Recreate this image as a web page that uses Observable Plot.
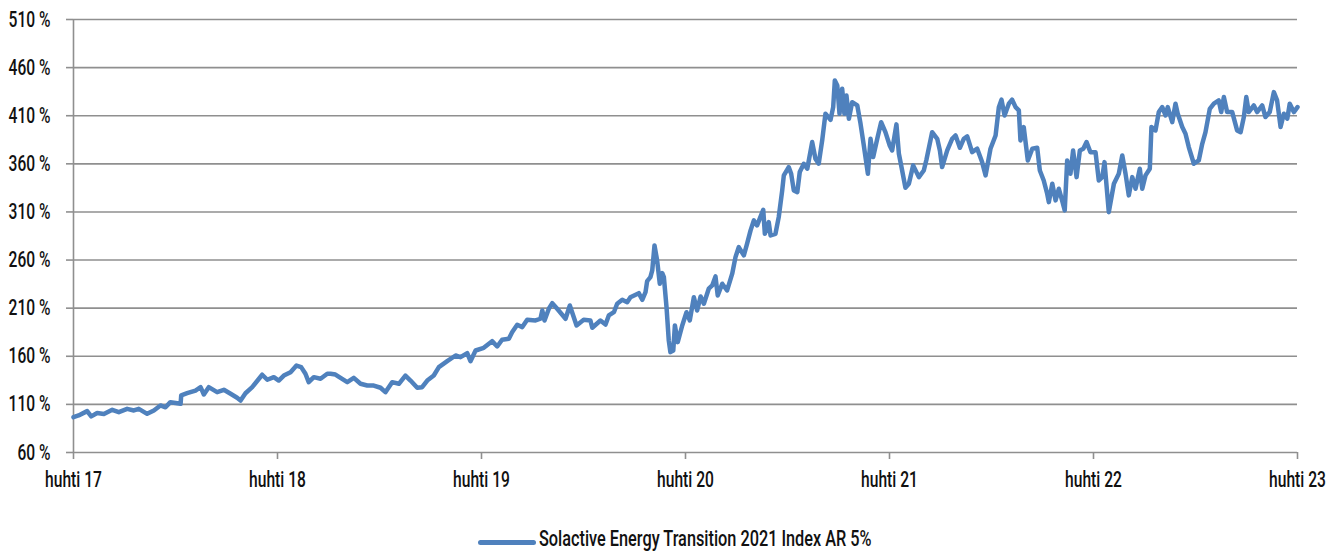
<!DOCTYPE html>
<html><head><meta charset="utf-8">
<script src="https://cdn.jsdelivr.net/npm/d3@7"></script>
<script src="https://cdn.jsdelivr.net/npm/@observablehq/plot@0.6"></script>
<style>
body{margin:0;background:#fff;font-family:Roboto,"DejaVu Sans",sans-serif;}
#chart svg{display:block;}
#legend{position:relative;width:1340px;height:61px;}
#legend .sw{position:absolute;left:478px;top:45px;width:58px;height:5px;border-radius:3px;background:#4f81bd;}
#legend .tx{position:absolute;left:539px;top:31px;font-size:22px;font-weight:500;line-height:26px;color:#111;white-space:nowrap;transform:scaleX(0.74);transform-origin:0 50%;}
</style></head><body>
<div id="chart"></div>
<div id="legend"><div class="sw"></div><div class="tx" id="legtext"></div></div>
<script>
const seriesName = "Solactive Energy Transition 2021 Index AR 5%";
// time in decimal years (2017.25 = huhti 2017)
const times = [2017.25,2017.275,2017.317,2017.337,2017.366,2017.399,2017.44,2017.472,2017.513,2017.546,2017.57,2017.611,2017.644,2017.676,2017.701,2017.725,2017.775,2017.778,2017.807,2017.848,2017.873,2017.889,2017.913,2017.954,2017.987,2018.02,2018.052,2018.069,2018.093,2018.126,2018.175,2018.2,2018.232,2018.256,2018.281,2018.314,2018.343,2018.366,2018.387,2018.403,2018.428,2018.461,2018.494,
2018.51,2018.534,2018.559,2018.592,2018.624,2018.657,2018.69,2018.722,2018.755,2018.779,2018.812,2018.845,2018.877,2018.902,2018.935,2018.959,2018.984,2019.016,2019.041,2019.082,2019.123,2019.147,2019.18,2019.196,2019.221,2019.261,2019.302,2019.327,2019.351,2019.384,2019.4,2019.425,2019.45,2019.474,2019.515,2019.539,2019.548,2019.559,2019.58,2019.597,2019.621,2019.662,2019.683,2019.716,2019.751,2019.784,2019.793,2019.833,
2019.858,2019.874,2019.899,2019.915,2019.94,2019.964,2019.98,2020.021,2020.038,2020.054,2020.062,2020.078,2020.087,2020.098,2020.111,2020.124,2020.136,2020.144,2020.157,2020.168,2020.176,2020.19,2020.198,2020.212,2020.234,2020.255,2020.271,2020.291,2020.307,2020.324,2020.34,2020.364,2020.381,2020.397,2020.408,2020.43,2020.454,2020.479,2020.495,2020.511,2020.536,2020.552,2020.569,2020.585,2020.601,2020.631,2020.639,2020.658,2020.667,2020.691,2020.707,2020.724,2020.732,2020.756,2020.768,2020.781,2020.798,2020.81,
2020.83,2020.847,2020.871,2020.887,2020.903,2020.92,2020.936,2020.961,2020.974,2020.982,2020.994,2021.005,2021.018,2021.029,2021.039,2021.051,2021.067,2021.092,2021.108,2021.124,2021.144,2021.157,2021.17,2021.19,2021.209,2021.23,2021.251,2021.263,2021.284,2021.296,2021.312,2021.328,2021.345,2021.366,2021.394,2021.418,2021.431,2021.459,2021.484,2021.497,2021.508,2021.533,2021.557,2021.574,2021.595,2021.614,2021.631,2021.655,2021.68,2021.704,2021.721,2021.745,2021.77,2021.786,2021.799,2021.814,2021.835,2021.851,2021.868,2021.884,2021.892,2021.908,2021.928,2021.95,2021.974,2021.987,2022.006,2022.023,2022.031,2022.048,2022.064,2022.08,2022.096,2022.109,2022.121,2022.137,2022.15,2022.167,2022.183,2022.2,2022.216,2022.235,
2022.26,2022.276,2022.293,2022.304,2022.325,2022.35,2022.374,2022.391,2022.407,2022.423,2022.44,2022.456,2022.477,2022.489,2022.505,2022.526,2022.534,2022.554,2022.57,2022.587,2022.603,2022.614,2022.636,2022.652,2022.663,2022.685,2022.701,2022.717,2022.742,2022.766,2022.783,2022.799,2022.82,2022.84,2022.864,2022.876,2022.889,2022.905,2022.93,2022.954,2022.971,2022.987,2022.999,2023.011,2023.036,2023.052,2023.077,2023.093,2023.114,2023.134,2023.15,2023.167,2023.183,2023.2,2023.212,2023.232,2023.25];
const values = [96.7,98.5,103,97.5,101,100,104.4,101.9,105.4,103.7,105.4,100.2,103.7,108.9,107,112.3,110.6,119.3,121.6,124.4,127.9,120.3,127.9,122.7,125.2,121,116.9,114,121.6,127.9,140.8,135.6,138.3,134.8,140,143.5,150.4,148.7,141.8,133.1,138.3,136.6,141.8,
141.8,141,137.6,133.1,137.6,131.4,129.6,129.6,127.3,122.7,133.1,131.4,140,134.8,127.3,127.9,134.8,140,148.7,154.9,160.8,159.1,163.2,154.9,166,168.8,175.7,170.2,177.2,178.2,185,192.7,190.3,197.9,197.2,199,207.6,197.2,209.4,215.2,209.4,199,212.8,192,197.9,197.2,189.6,197.2,
193,202.4,205.8,214.6,218.7,216.2,221.4,225.6,218.7,226.6,238.1,242.2,249.2,275.2,259.6,235.4,246.4,242.2,211,176.4,164.3,166,192,174.7,192,205.8,197.2,221.4,207.6,222.2,214.6,230.2,233.6,243,223.2,235.4,228.4,245.8,263,273.4,264.8,277,290.8,301.2,296,312.3,287.3,299.4,285.6,287.3,304.6,332.3,348,356.6,349.7,332.3,330.6,351.4,
360.1,354.9,382.6,365.3,360.1,384.3,412.1,405.8,418.9,446.7,441.5,412.1,438.1,412.1,431.1,406.9,424.1,420.7,401.7,379.1,349.7,386,367,386,403.3,392.9,379.1,373.9,401,370.5,353.1,335.2,339.3,358.4,346.2,353.1,364.3,392.9,386,373.9,356.6,373.9,386,389.5,376.7,386,388.5,372.1,375.7,361.8,348,375.7,389.5,418.9,426.7,410.3,422.5,426.7,418.9,415.5,384.3,398.2,363.5,375.7,376.7,353.1,342.7,328.9,320.2,339.3,322,334.1,322,311.6,363.5,349.7,373.9,346.2,373.9,375.7,382.6,372.1,
372.1,342.7,346.2,361.8,309.8,339.3,349.7,368.7,349.7,327.2,346.2,334.1,354.9,334.1,348,354.9,398.2,394.7,413.8,418.9,410.3,418.9,403.3,422.5,412.1,398.2,391.3,377.4,360.1,363.5,380.8,392.9,417.2,422.5,425.9,413.8,429.4,413.8,413.8,394.7,392.9,408.6,429.4,413.8,420.7,413.8,420.7,408.6,413.8,434.5,425.9,398.2,412.1,406.9,422.5,413.8,418.9];
const yTicks = [60,110,160,210,260,310,360,410,460,510];
const xTicks = [2017.25,2018.25,2019.25,2020.25,2021.25,2022.25,2023.25];
const xTickLabels = ["huhti 17","huhti 18","huhti 19","huhti 20","huhti 21","huhti 22","huhti 23"];

const data = times.map((t,i)=>({t, v: values[i]}));
const gray = "#8f8f8f";
const chart = Plot.plot({
  width: 1340, height: 495,
  marginLeft: 73, marginRight: 43, marginTop: 19, marginBottom: 43,
  style: {fontFamily: 'Roboto,"DejaVu Sans",sans-serif', fontSize: "22px", fontWeight: 500, color: "#111", background: "#fff", overflow: "visible"},
  x: {type: "linear", domain: [2017.25, 2023.25]},
  y: {domain: [60, 510]},
  marks: [
    Plot.gridY(yTicks, {stroke: gray, strokeOpacity: 1, strokeWidth: 1.6}),
    Plot.ruleX([2017.25], {stroke: gray, strokeWidth: 1.6}),
    Plot.axisY(yTicks, {tickSize: 7, tickPadding: 16, stroke: gray, strokeWidth: 1.6, fill: "#111", tickFormat: d => d + " %", label: null}),
    Plot.axisX(xTicks, {tickSize: 7, tickPadding: 12, stroke: gray, strokeWidth: 1.6, fill: "#111", tickFormat: (d,i) => xTickLabels[i], label: null}),
    Plot.lineY(data, {x: "t", y: "v", stroke: "#4f81bd", strokeWidth: 4.5, strokeLinejoin: "round", strokeLinecap: "round"})
  ]
});
// condense tick label text horizontally around its anchor point
const sx = 0.71;
chart.querySelectorAll("text").forEach(el => {
  const x = +el.getAttribute("x") || 0, y = +el.getAttribute("y") || 0;
  const tr = el.getAttribute("transform") || "";
  el.setAttribute("transform", `${tr} translate(${x},${y}) scale(${sx},1) translate(${-x},${-y})`);
});
document.getElementById("chart").appendChild(chart);
document.getElementById("legtext").textContent = seriesName;
</script>
</body></html>
